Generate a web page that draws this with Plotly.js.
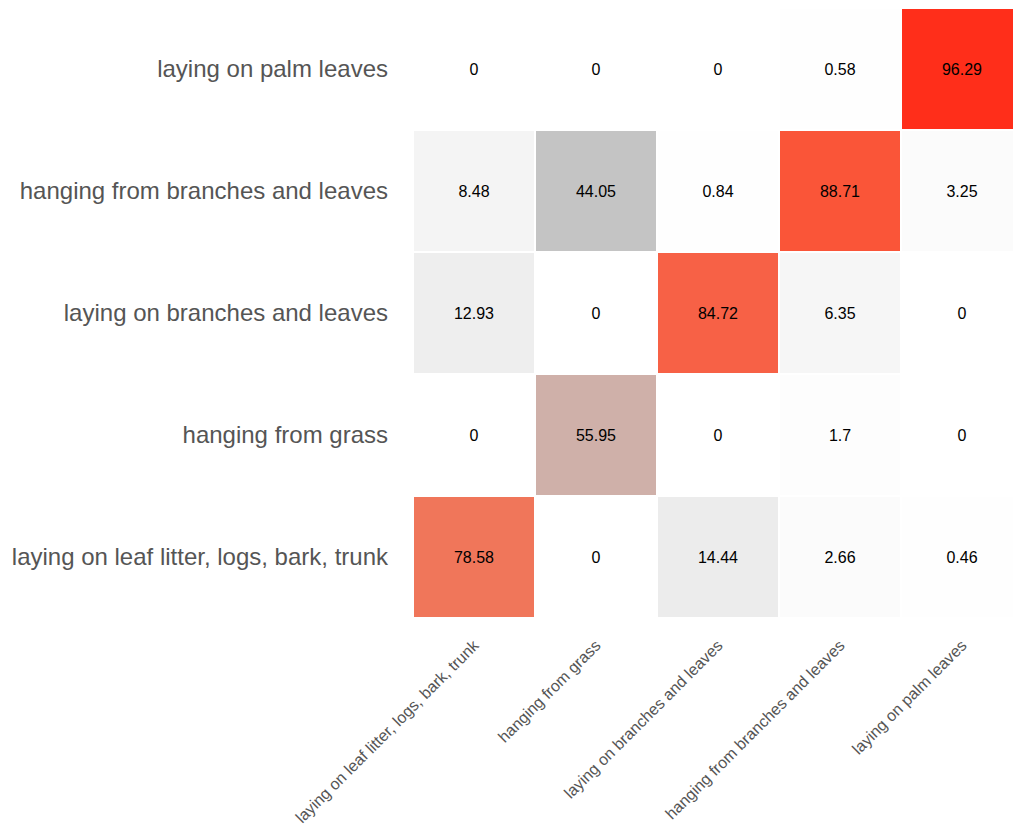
<!DOCTYPE html>
<html>
<head>
<meta charset="utf-8">
<script src="https://cdn.plot.ly/plotly-3.0.1.min.js"></script>
<style>
  html, body { margin: 0; padding: 0; background: #ffffff; overflow: hidden; }
  #chart { width: 1023px; height: 828px; }
</style>
</head>
<body>
<div id="chart"></div>
<script>
// Predicted posture (columns) versus true posture (rows), in percent
const predictedLabels = [
  "laying on leaf litter, logs, bark, trunk",
  "hanging from grass",
  "laying on branches and leaves",
  "hanging from branches and leaves",
  "laying on palm leaves"
];
const trueLabels = [
  "laying on leaf litter, logs, bark, trunk",
  "hanging from grass",
  "laying on branches and leaves",
  "hanging from branches and leaves",
  "laying on palm leaves"
];

// One row per true posture, bottom row first
const rowLeafLitter      = [78.58, 0, 14.44, 2.66, 0.46];
const rowGrass           = [0, 55.95, 0, 1.7, 0];
const rowLayingBranches  = [12.93, 0, 84.72, 6.35, 0];
const rowHangingBranches = [8.48, 44.05, 0.84, 88.71, 3.25];
const rowPalmLeaves      = [0, 0, 0, 0.58, 96.29];

const zValues = [rowLeafLitter, rowGrass, rowLayingBranches, rowHangingBranches, rowPalmLeaves];

// White through grey into red
const colorscale = [
  [0.0,   "#ffffff"],
  [0.44,  "#c4c4c4"],
  [0.56,  "#cfb0a9"],
  [0.786, "#f0765a"],
  [0.847, "#f76146"],
  [0.887, "#fa5538"],
  [0.963, "#ff2e1a"],
  [1.0,   "#ff2812"]
];

const trace = {
  type: "heatmap",
  x: predictedLabels,
  y: trueLabels,
  z: zValues,
  zmin: 0,
  zmax: 100,
  colorscale: colorscale,
  showscale: false,
  xgap: 2,
  ygap: 2,
  texttemplate: "%{z}",
  textfont: { family: "Liberation Sans, Arial, sans-serif", size: 16, color: "#000000" },
  hoverinfo: "skip"
};

const layout = {
  width: 1023,
  height: 828,
  margin: { l: 413, r: 0, t: 8, b: 210 },
  paper_bgcolor: "#ffffff",
  plot_bgcolor: "#ffffff",
  font: { family: "Liberation Sans, Arial, sans-serif", color: "#555555" },
  xaxis: {
    type: "category",
    tickangle: -45,
    tickfont: { size: 16, color: "#555555" },
    showgrid: false,
    zeroline: false,
    showline: false,
    ticks: "",
    ticklabelstandoff: 14
  },
  yaxis: {
    type: "category",
    tickfont: { size: 24, color: "#555555" },
    showgrid: false,
    zeroline: false,
    showline: false,
    ticks: "",
    ticklabelstandoff: 24
  },
  showlegend: false
};

Plotly.newPlot("chart", [trace], layout, { displayModeBar: false, staticPlot: true });
</script>
</body>
</html>
